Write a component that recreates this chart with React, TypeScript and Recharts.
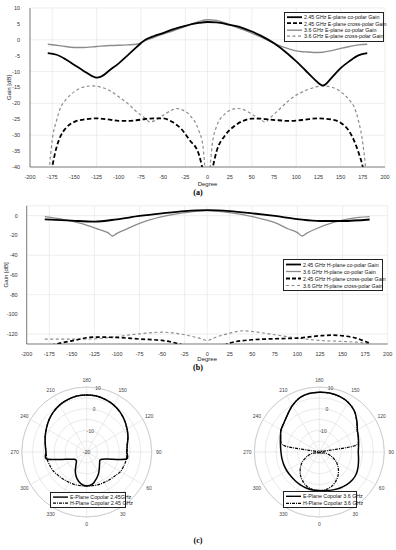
import React from "react";
import {
  LineChart,
  Line,
  XAxis,
  YAxis,
  CartesianGrid,
  RadarChart,
  Radar,
  PolarGrid,
  PolarAngleAxis,
  PolarRadiusAxis,
} from "recharts";

const FONT = "'Liberation Sans', Arial, Helvetica, sans-serif";
const SERIF = "'Liberation Serif', 'Times New Roman', serif";

// ---------- panel (a): E-plane gain vs degree ----------
const degTicks = [-200, -175, -150, -125, -100, -75, -50, -25, 0, 25, 50, 75, 100, 125, 150, 175, 200];
const gainTicksA = [-40, -35, -30, -25, -20, -15, -10, -5, 0, 5, 10];

const eCo245Deg = [-180, -170, -160, -150, -140, -130, -125, -120, -110, -100, -90, -80, -70, -60, -50, -40, -25, -10, 0, 10, 25, 40, 50, 60, 75, 90, 100, 110, 120, 130, 140, 150, 160, 170, 180];
const eCo245Gain = [-4.2, -4.7, -6.1, -7.9, -9.7, -11.4, -11.9, -11.6, -9.5, -7.4, -4.9, -2.3, 0.0, 1.2, 2.1, 3.2, 4.4, 5.3, 5.6, 5.5, 4.7, 3.7, 2.6, 1.3, -1.1, -4.3, -6.8, -9.5, -12.3, -14.4, -11.9, -8.9, -6.7, -4.9, -4.2];

const eCo36Deg = [-180, -165, -150, -140, -125, -110, -90, -80, -70, -60, -50, -40, -25, -10, 0, 10, 20, 30, 40, 50, 60, 75, 90, 100, 110, 120, 130, 140, 150, 160, 170, 180];
const eCo36Gain = [-1.4, -1.9, -2.4, -2.4, -2.1, -1.8, -1.6, -1.4, -0.2, 0.8, 1.8, 2.7, 4.2, 5.7, 6.3, 6.1, 5.3, 4.2, 3.2, 2.1, 0.9, -1.1, -2.7, -3.5, -3.8, -4.0, -3.9, -3.4, -2.7, -2.1, -1.6, -1.4];

const eX245Deg = [-180, -175, -170, -165, -160, -150, -140, -125, -110, -100, -90, -80, -70, -60, -50, -40, -30, -20, -10, -6, 0, 6, 10, 20, 30, 40, 50, 60, 70, 80, 90, 100, 110, 125, 140, 150, 160, 165, 170, 175, 180];
const eX245Gain = [-48, -40, -33.7, -30, -27.9, -25.8, -25.1, -24.7, -25.1, -25.5, -25.5, -25.3, -24.9, -24.7, -24.7, -25.8, -27.9, -31.6, -35.8, -40, -48, -40, -35.3, -30, -27.2, -25.5, -24.8, -24.8, -25.1, -25.3, -25.5, -25.4, -25.1, -24.7, -25.1, -26.1, -28.9, -31.6, -35.3, -40, -48];

const eX36Deg = [-180, -178, -175, -170, -165, -160, -150, -140, -130, -120, -110, -100, -90, -80, -70, -65, -60, -50, -40, -35, -30, -20, -10, -5, -3, 0, 3, 5, 10, 20, 30, 35, 40, 50, 60, 65, 70, 80, 90, 100, 110, 120, 130, 140, 150, 160, 165, 170, 175, 178, 180];
const eX36Gain = [-48, -40, -31.6, -25.3, -21, -19, -16.3, -14.9, -14.5, -14.9, -16, -17.9, -20, -22.6, -24.7, -25.8, -25.5, -23.7, -22.1, -21.6, -21.9, -23.7, -28.4, -33.7, -40, -48, -40, -33.7, -27.4, -23.2, -21.7, -21.6, -21.9, -23.4, -25.1, -25.9, -24.7, -22.1, -19.5, -17.4, -16, -15, -14.5, -14.9, -16.3, -19, -21, -25.3, -32.6, -40, -48];

// ---------- panel (b): H-plane gain vs degree ----------
const gainTicksB = [-120, -100, -80, -60, -40, -20, 0];

const hCo245Deg = [-180, -150, -125, -100, -75, -50, -25, 0, 25, 50, 75, 100, 125, 150, 180];
const hCo245Gain = [-3.7, -5.1, -6.0, -3.7, -0.3, 2.4, 4.7, 5.7, 4.7, 2.4, -0.3, -3.4, -5.4, -5.4, -3.9];

const hCo36Deg = [-180, -160, -140, -120, -110, -105, -100, -90, -75, -50, -25, 0, 25, 50, 75, 90, 100, 105, 110, 120, 140, 160, 180];
const hCo36Gain = [-1, -3.7, -7.8, -13.9, -17.2, -20.6, -17.9, -13.9, -7.8, -1, 3, 5.1, 3, -1, -7.1, -13.5, -17.2, -20.6, -17.9, -13.5, -6.8, -2.7, -1];

const hX245Deg = [-180, -165, -150, -125, -100, -75, -50, -35, -20, 0, 15, 25, 50, 75, 100, 125, 140, 150, 165, 175, 180];
const hX245Gain = [-133, -129.5, -126.8, -123, -123.4, -125, -126.4, -129, -133, -136, -133, -129, -125.7, -124.7, -124, -121.7, -121, -121.7, -124, -127.4, -129];

const hX36Deg = [-180, -150, -125, -100, -75, -50, -25, -10, 0, 10, 25, 40, 50, 75, 100, 125, 150, 175, 180];
const hX36Gain = [-125.1, -125.1, -124.8, -122.4, -119.7, -118, -120.7, -123.8, -126.4, -123, -119, -116.6, -117.3, -120.7, -124, -126.4, -127.4, -129.1, -130.5];

// ---------- panel (c): polar copolar patterns ----------
const thetaDeg = [0, 10, 20, 30, 40, 50, 60, 70, 80, 90, 100, 110, 120, 130, 140, 150, 160, 170, 180, 190, 200, 210, 220, 230, 240, 250, 260, 270, 280, 290, 300, 310, 320, 330, 340, 350];
const thetaTicks = [0, 30, 60, 90, 120, 150, 180, 210, 240, 270, 300, 330];

const polarE245 = [-4.3, -4.9, -6.9, -8.9, -10.9, -12.2, -12.8, -10.5, -1.4, -1.5, -1.0, 0.3, 1.5, 2.8, 4.0, 5.0, 5.7, 6.2, 6.3, 6.2, 5.7, 5.0, 4.0, 2.8, 1.5, 0.4, -0.6, -1.2, -1.3, -10.1, -13.2, -13.8, -12.3, -9.5, -6.9, -5.1];
const polarH245 = [-4.3, -4.2, -4.0, -3.8, -3.4, -2.9, -2.0, -1.7, -1.4, -1.4, -1.0, 0.2, 1.4, 2.7, 3.9, 5.0, 5.7, 6.2, 6.3, 6.2, 5.7, 5.0, 4.0, 2.8, 1.5, 0.4, -0.6, -1.2, -1.4, -1.9, -2.3, -3.0, -3.5, -3.8, -4.0, -4.2];

const polarE36 = [-2.2, -1.9, -1.4, -0.8, -0.3, 0.0, -0.2, -0.9, -1.6, -2.0, -1.6, -0.8, 0.3, 2.6, 5.0, 6.5, 7.3, 7.6, 7.6, 7.4, 6.6, 4.8, 2.7, 1.2, 0.4, -0.9, -1.8, -2.3, -2.5, -2.6, -2.7, -2.8, -2.7, -2.5, -2.3, -2.2];
const polarH36 = [-2.2, -2.4, -3.2, -4.6, -6.4, -8.6, -11.0, -14.0, -17.0, -20, -3.4, -0.9, 0.2, 2.5, 5.0, 6.5, 7.3, 7.6, 7.6, 7.4, 6.6, 4.8, 2.7, 1.2, 0.4, -1.2, -3.8, -20, -17.0, -14.0, -11.0, -8.6, -6.4, -4.6, -3.2, -2.4];

const pts = (deg: number[], gain: number[]) => deg.map((d, i) => ({ deg: d, gain: gain[i] }));
// rows go 0, 350, 340 ... 10 so the (decreasing) angle range runs counter-clockwise on screen
const polarRows = (e: number[], h: number[]) =>
  thetaDeg.map((_, j) => {
    const i = (thetaDeg.length - j) % thetaDeg.length;
    return { theta: thetaDeg[i], e: e[i], h: h[i] };
  });

const GRID = "#e2e2e2";
const BOX = "#333";
const GRAY = "#8c8c8c";
const tickStyle = { fontSize: 5.5, fill: "#333", fontFamily: FONT };

type LegendItem = { label: string; color: string; width: number; dash?: string };

function LegendBox({ items, left, top, width, row, sample = 15 }: { items: LegendItem[]; left: number; top: number; width: number; row: number; sample?: number }) {
  return (
    <div
      style={{
        position: "absolute",
        left,
        top,
        width,
        background: "#fff",
        border: "0.8px solid #222",
        padding: "1px 0",
        fontFamily: FONT,
        fontSize: 5.3,
        color: "#111",
      }}
    >
      {items.map((it) => (
        <div key={it.label} style={{ display: "flex", alignItems: "center", height: row, whiteSpace: "nowrap" }}>
          <svg width={sample + 3} height={row} style={{ flex: "none" }}>
            <line x1={2} y1={row / 2} x2={sample + 2} y2={row / 2} stroke={it.color} strokeWidth={it.width} strokeDasharray={it.dash} />
          </svg>
          <span style={{ marginLeft: 1 }}>{it.label}</span>
        </div>
      ))}
    </div>
  );
}

function PanelLabel({ text, top }: { text: string; top: number }) {
  return (
    <div style={{ position: "absolute", left: 0, top, width: 396, textAlign: "center", fontFamily: SERIF, fontWeight: "bold", fontSize: 8 }}>
      {text}
    </div>
  );
}

const angleTick = (p: any) => {
  const v = Number(p.payload?.value);
  if (v % 30 !== 0) return <g />;
  return (
    <text x={p.x} y={p.y} textAnchor="middle" dominantBaseline="central" fontSize={5} fill="#444" fontFamily={FONT}>
      {v}
    </text>
  );
};

const radiusTick = (p: any) => {
  const v = Number(p.payload?.value);
  if (v % 10 !== 0) return <g />;
  return (
    <text x={p.x} y={p.y} textAnchor="middle" dominantBaseline="central" fontSize={5} fill="#444" fontFamily={FONT}>
      {v}
    </text>
  );
};

// closed cardinal spline through the radar points the library computed
function closedSpline(p: { x: number; y: number }[], k = 0.15) {
  const n = p.length;
  if (!n) return "";
  let d = `M${p[0].x},${p[0].y}`;
  for (let i = 0; i < n; i++) {
    const p0 = p[(i - 1 + n) % n];
    const p1 = p[i];
    const p2 = p[(i + 1) % n];
    const p3 = p[(i + 2) % n];
    d += `C${p1.x + (p2.x - p0.x) * k},${p1.y + (p2.y - p0.y) * k},${p2.x - (p3.x - p1.x) * k},${p2.y - (p3.y - p1.y) * k},${p2.x},${p2.y}`;
  }
  return d + "Z";
}

const smoothShape = (props: any) => (
  <path
    d={closedSpline(props.points || [])}
    fill="none"
    stroke={props.stroke}
    strokeWidth={props.strokeWidth}
    strokeDasharray={props.strokeDasharray}
    strokeLinejoin="round"
  />
);

function PolarPlot({ rows, cx }: { rows: { theta: number; e: number; h: number }[]; cx: number }) {
  return (
    <RadarChart
      width={176}
      height={170}
      cx={cx}
      cy={82}
      outerRadius={65}
      startAngle={270}
      endAngle={-90}
      data={rows}
      margin={{ top: 0, right: 0, bottom: 0, left: 0 }}
    >
      <PolarGrid gridType="circle" polarAngles={thetaTicks.map((t) => t - 90)} stroke="#dcdcdc" strokeWidth={0.6} />
      <PolarAngleAxis dataKey="theta" tick={angleTick} tickLine={false} tickSize={7} axisLine={{ stroke: "#cfcfcf" }} />
      <PolarRadiusAxis angle={80} domain={[-20, 10]} tickCount={7} axisLine={false} tickLine={false} tick={radiusTick} />
      <Radar dataKey="h" stroke="#000" strokeWidth={1.2} strokeDasharray="3 1 1 1" fill="none" fillOpacity={0} dot={false} shape={smoothShape} isAnimationActive={false} />
      <Radar dataKey="e" stroke="#000" strokeWidth={1.5} fill="none" fillOpacity={0} dot={false} shape={smoothShape} isAnimationActive={false} />
    </RadarChart>
  );
}

export default function App() {
  return (
    <div style={{ position: "fixed", left: 0, top: 0, width: 396, height: 550, background: "#fff", overflow: "hidden" }}>
      {/* (a) */}
      <div style={{ position: "absolute", left: 0, top: 0 }}>
        <LineChart width={396} height={190} margin={{ top: 8, right: 11, left: 0, bottom: 0 }}>
          <CartesianGrid stroke={GRID} strokeWidth={0.6} />
          <XAxis
            type="number"
            dataKey="deg"
            domain={[-200, 200]}
            ticks={degTicks}
            height={23}
            tickLine={false}
            tickMargin={2}
            tick={tickStyle}
            axisLine={{ stroke: BOX, strokeWidth: 0.6 }}
            label={{ value: "Degree", position: "insideBottom", offset: 4, style: { fontSize: 6, fill: "#222", fontFamily: FONT } }}
          />
          <XAxis xAxisId="top" orientation="top" type="number" domain={[-200, 200]} height={0} tick={false} tickLine={false} axisLine={{ stroke: BOX, strokeWidth: 0.6 }} />
          <YAxis
            type="number"
            domain={[-40, 10]}
            ticks={gainTicksA}
            allowDataOverflow
            width={30}
            tickLine={false}
            tickMargin={4}
            tick={tickStyle}
            axisLine={{ stroke: BOX, strokeWidth: 0.6 }}
            label={{ value: "Gain [dB]", angle: -90, position: "insideLeft", offset: 9, style: { fontSize: 6, fill: "#222", fontFamily: FONT, textAnchor: "middle" } }}
          />
          <YAxis yAxisId="right" orientation="right" domain={[-40, 10]} width={0} tick={false} tickLine={false} axisLine={{ stroke: BOX, strokeWidth: 0.6 }} />
          <Line name="x36" data={pts(eX36Deg, eX36Gain)} dataKey="gain" type="monotone" stroke={GRAY} strokeWidth={1.2} strokeDasharray="3 2.5" dot={false} isAnimationActive={false} />
          <Line name="x245" data={pts(eX245Deg, eX245Gain)} dataKey="gain" type="monotone" stroke="#000" strokeWidth={1.8} strokeDasharray="4.5 2.5" dot={false} isAnimationActive={false} />
          <Line name="co36" data={pts(eCo36Deg, eCo36Gain)} dataKey="gain" type="monotone" stroke={GRAY} strokeWidth={1.4} dot={false} isAnimationActive={false} />
          <Line name="co245" data={pts(eCo245Deg, eCo245Gain)} dataKey="gain" type="monotone" stroke="#000" strokeWidth={1.8} dot={false} isAnimationActive={false} />
        </LineChart>
      </div>
      <LegendBox
        left={284}
        top={12}
        width={98}
        row={6.4}
        items={[
          { label: "2.45 GHz E-plane co-polar Gain", color: "#000", width: 1.8 },
          { label: "2.45 GHz E-plane cross-polar Gain", color: "#000", width: 1.8, dash: "4 2" },
          { label: "3.6 GHz E-plane co-polar Gain", color: GRAY, width: 1.4 },
          { label: "3.6 GHz E-plane cross-polar Gain", color: GRAY, width: 1.2, dash: "3 2.5" },
        ]}
      />
      <PanelLabel text="(a)" top={188} />

      {/* (b) */}
      <div style={{ position: "absolute", left: 0, top: 190 }}>
        <LineChart width={396} height={176} margin={{ top: 15.8, right: 8.3, left: 0, bottom: 0 }}>
          <CartesianGrid stroke={GRID} strokeWidth={0.6} />
          <XAxis
            type="number"
            dataKey="deg"
            domain={[-200, 200]}
            ticks={degTicks}
            height={22}
            tickLine={false}
            tickMargin={2}
            tick={tickStyle}
            axisLine={{ stroke: BOX, strokeWidth: 0.6 }}
            label={{ value: "Degree", position: "insideBottom", offset: 5, style: { fontSize: 6, fill: "#222", fontFamily: FONT } }}
          />
          <XAxis xAxisId="top" orientation="top" type="number" domain={[-200, 200]} height={0} tick={false} tickLine={false} axisLine={{ stroke: BOX, strokeWidth: 0.6 }} />
          <YAxis
            type="number"
            domain={[-130, 10]}
            ticks={gainTicksB}
            allowDataOverflow
            width={26.7}
            tickLine={false}
            tickMargin={3}
            tick={tickStyle}
            axisLine={{ stroke: BOX, strokeWidth: 0.6 }}
            label={{ value: "Gain [dB]", angle: -90, position: "insideLeft", offset: 6, style: { fontSize: 6, fill: "#222", fontFamily: FONT, textAnchor: "middle" } }}
          />
          <YAxis yAxisId="right" orientation="right" domain={[-130, 10]} width={0} tick={false} tickLine={false} axisLine={{ stroke: BOX, strokeWidth: 0.6 }} />
          <Line name="hx36" data={pts(hX36Deg, hX36Gain)} dataKey="gain" type="monotone" stroke={GRAY} strokeWidth={1.1} strokeDasharray="3 2.5" dot={false} isAnimationActive={false} />
          <Line name="hx245" data={pts(hX245Deg, hX245Gain)} dataKey="gain" type="monotone" stroke="#000" strokeWidth={1.7} strokeDasharray="4 2.5" dot={false} isAnimationActive={false} />
          <Line name="hco36" data={pts(hCo36Deg, hCo36Gain)} dataKey="gain" type="monotone" stroke={GRAY} strokeWidth={1.3} dot={false} isAnimationActive={false} />
          <Line name="hco245" data={pts(hCo245Deg, hCo245Gain)} dataKey="gain" type="monotone" stroke="#000" strokeWidth={1.8} dot={false} isAnimationActive={false} />
        </LineChart>
      </div>
      <LegendBox
        left={283}
        top={259}
        width={98}
        row={7}
        items={[
          { label: "2.45 GHz H-plane co-polar Gain", color: "#000", width: 1.8 },
          { label: "3.6 GHz H-plane co-polar Gain", color: GRAY, width: 1.3 },
          { label: "2.45 GHz H-plane cross-polar Gain", color: "#000", width: 1.8, dash: "4 2" },
          { label: "3.6 GHz H-plane cross-polar Gain", color: GRAY, width: 1.1, dash: "3 2.5" },
        ]}
      />
      <PanelLabel text="(b)" top={363} />

      {/* (c) */}
      <div style={{ position: "absolute", left: 0, top: 370 }}>
        <PolarPlot rows={polarRows(polarE245, polarH245)} cx={86.7} />
      </div>
      <div style={{ position: "absolute", left: 232, top: 370 }}>
        <PolarPlot rows={polarRows(polarE36, polarH36)} cx={87.3} />
      </div>
      <LegendBox
        left={50}
        top={492}
        width={74}
        row={6.2}
        items={[
          { label: "E-Plane Copolar 2.45GHz", color: "#000", width: 1.4 },
          { label: "H-Plane Copolar 2.45 GHz", color: "#000", width: 1.2, dash: "3 1 1 1" },
        ]}
      />
      <LegendBox
        left={283}
        top={491}
        width={72}
        row={6.6}
        items={[
          { label: "E-Plane Copolar  3.6 GHz", color: "#000", width: 1.4 },
          { label: "H-Plane Copolar 3.6 GHz", color: "#000", width: 1.2, dash: "3 1 1 1" },
        ]}
      />
      <PanelLabel text="(c)" top={536} />
    </div>
  );
}
